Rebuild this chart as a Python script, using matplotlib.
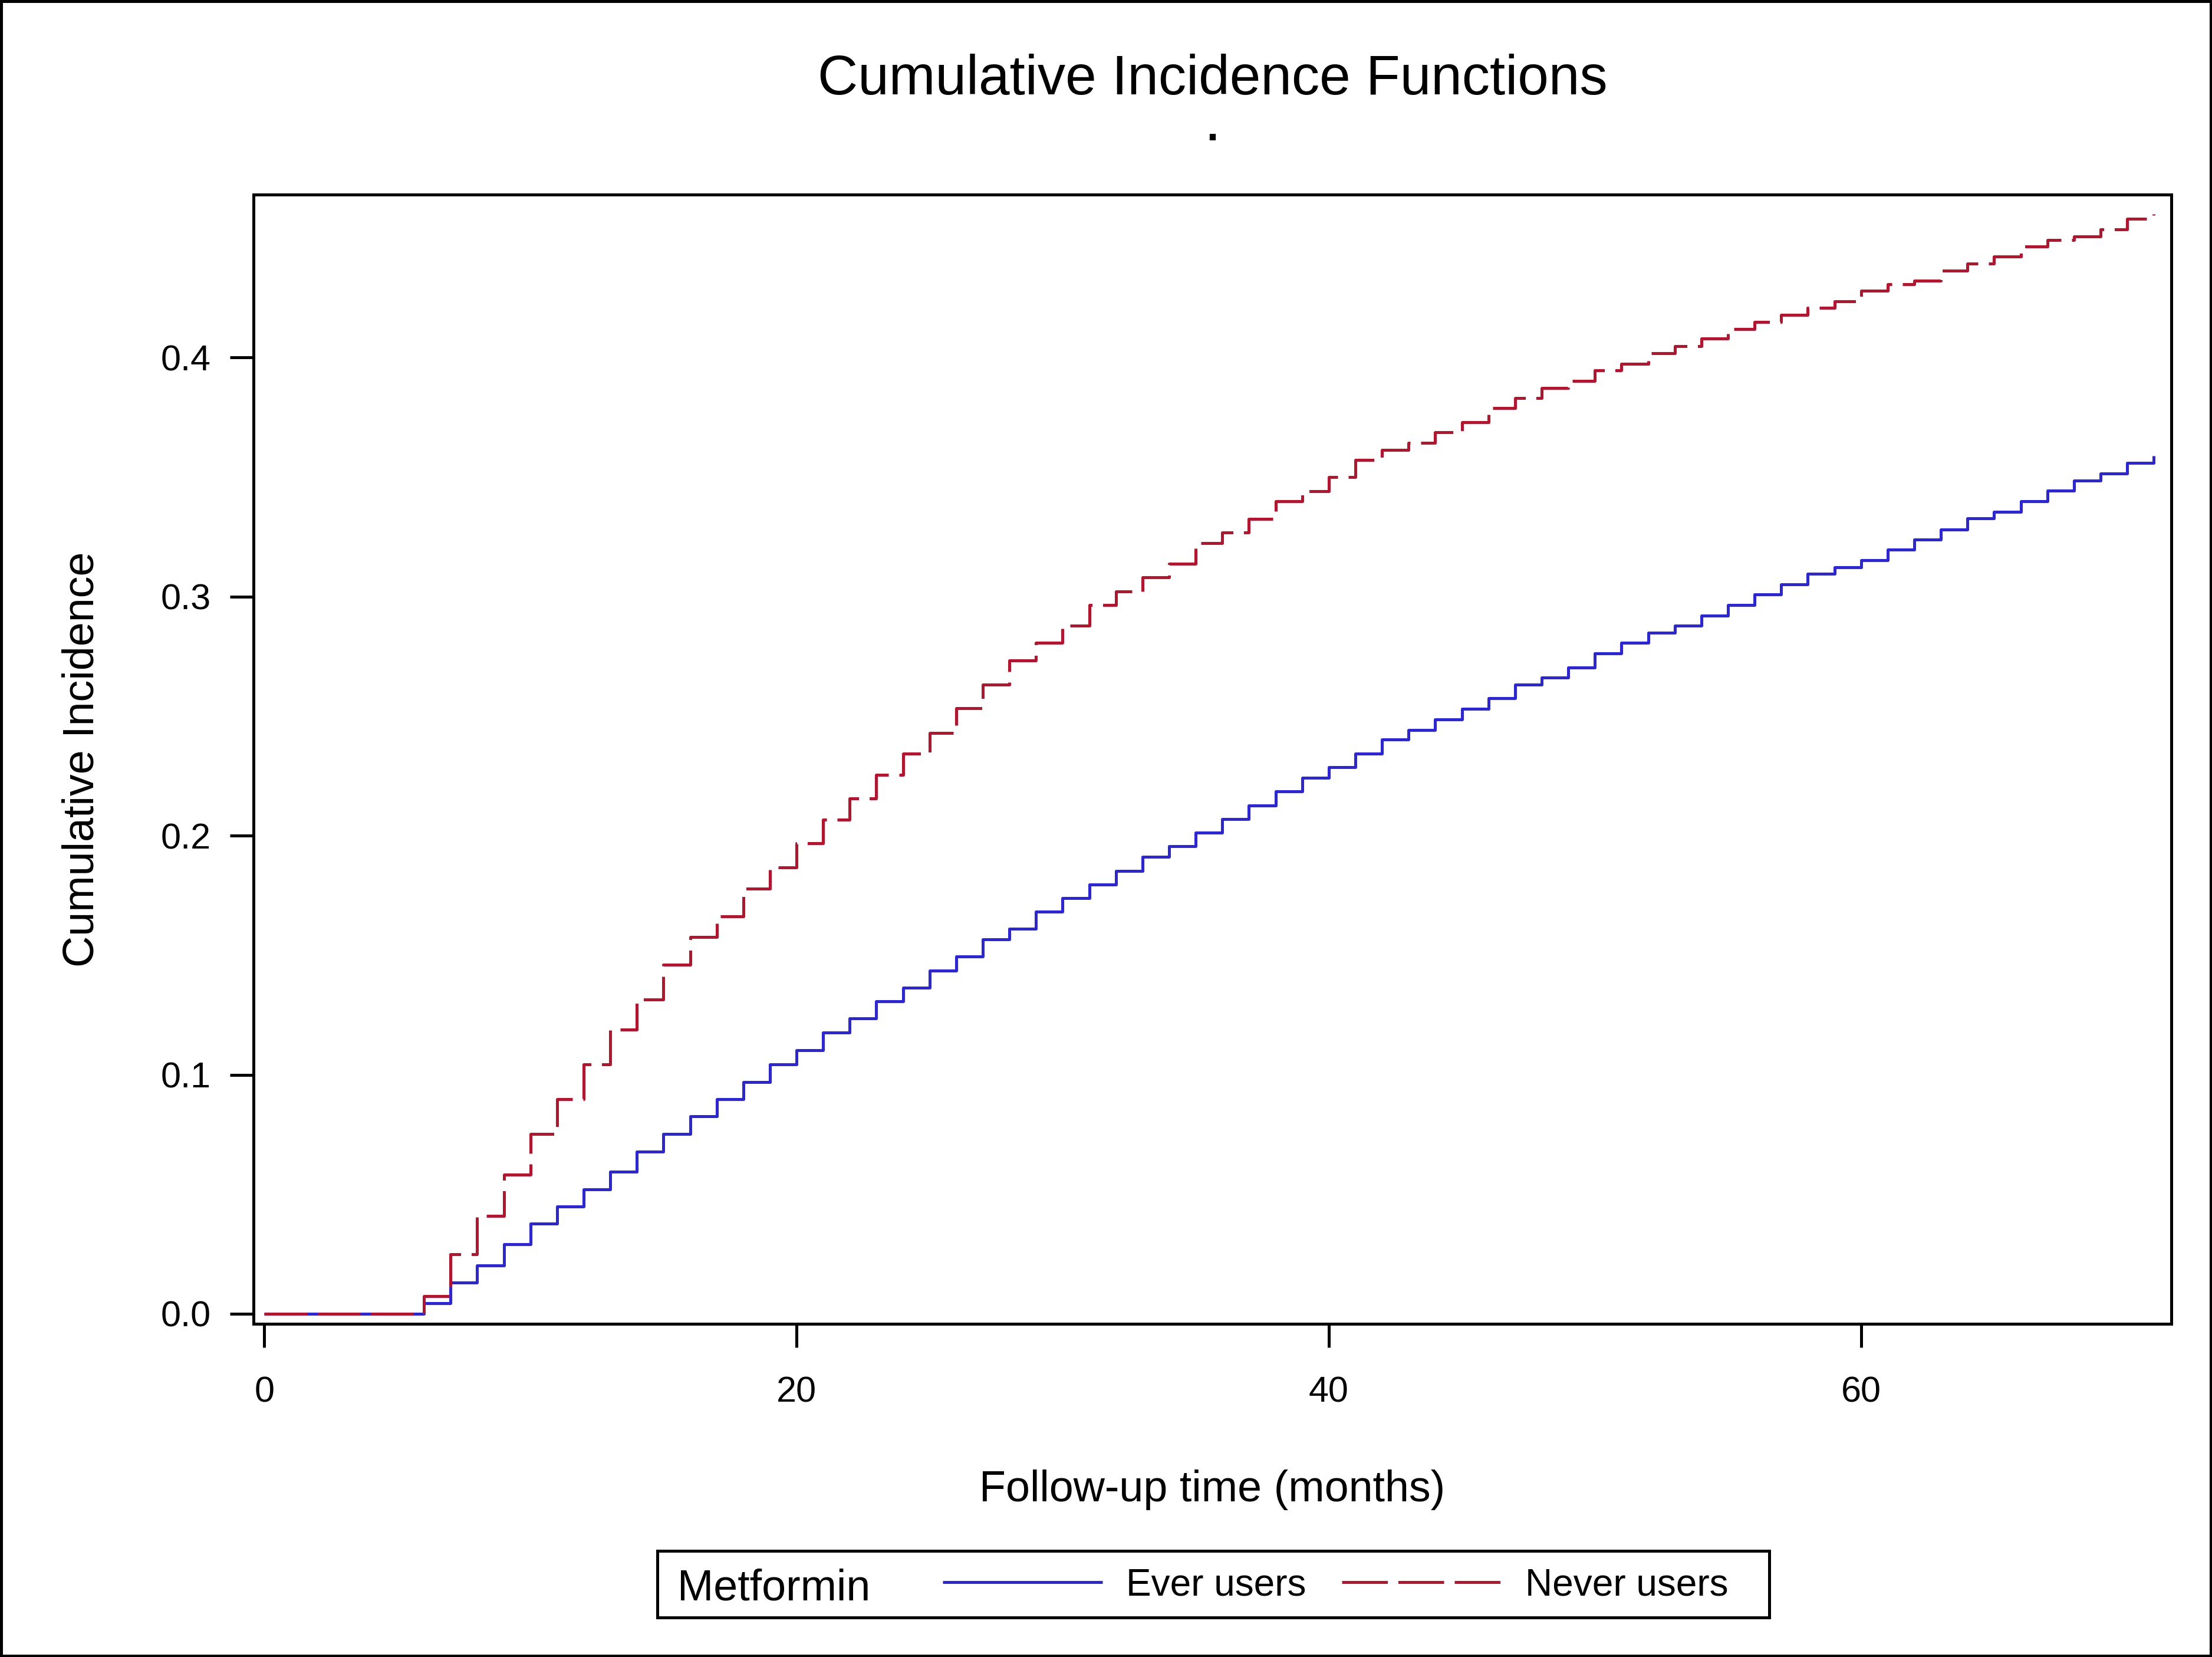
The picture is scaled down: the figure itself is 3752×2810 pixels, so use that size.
import matplotlib
matplotlib.use('Agg')
import matplotlib.pyplot as plt
from matplotlib.lines import Line2D
from matplotlib.patches import Rectangle

plt.rcParams['font.family'] = ['Liberation Sans', 'DejaVu Sans']

# follow-up months where the estimates change (step function, post)
months = [0] + list(range(6, 72))

# cumulative incidence, Metformin ever users
ever_users = [0.0,
              0.0044, 0.0131, 0.0203, 0.0291, 0.0378, 0.0449, 0.0521, 0.0594, 0.0679, 0.0753,
              0.0825, 0.0897, 0.0970, 0.1043, 0.1103, 0.1177, 0.1235, 0.1307, 0.1364, 0.1436,
              0.1494, 0.1567, 0.1610, 0.1681, 0.1739, 0.1796, 0.1853, 0.1912, 0.1955, 0.2013,
              0.2070, 0.2127, 0.2185, 0.2242, 0.2287, 0.2344, 0.2401, 0.2442, 0.2487, 0.2531,
              0.2575, 0.2632, 0.2661, 0.2704, 0.2762, 0.2806, 0.2848, 0.2878, 0.2921, 0.2964,
              0.3008, 0.3051, 0.3095, 0.3123, 0.3152, 0.3196, 0.3238, 0.3281, 0.3326, 0.3355,
              0.3399, 0.3443, 0.3484, 0.3514, 0.3558, 0.3588]

# cumulative incidence, Metformin never users
never_users = [0.0,
               0.0075, 0.0248, 0.0409, 0.0582, 0.0753, 0.0897, 0.1043, 0.1188, 0.1315, 0.1461,
               0.1576, 0.1663, 0.1779, 0.1867, 0.1968, 0.2067, 0.2155, 0.2255, 0.2343, 0.2429,
               0.2533, 0.2632, 0.2733, 0.2806, 0.2879, 0.2964, 0.3022, 0.3080, 0.3138, 0.3224,
               0.3267, 0.3325, 0.3398, 0.3441, 0.3499, 0.3570, 0.3613, 0.3642, 0.3687, 0.3730,
               0.3788, 0.3831, 0.3872, 0.3901, 0.3945, 0.3974, 0.4017, 0.4047, 0.4078, 0.4119,
               0.4148, 0.4178, 0.4207, 0.4235, 0.4278, 0.4307, 0.4322, 0.4363, 0.4392, 0.4422,
               0.4465, 0.4492, 0.4507, 0.4536, 0.4581, 0.4599]

x_ticks = [0, 20, 40, 60]
y_ticks = [0.0, 0.1, 0.2, 0.3, 0.4]
group_labels = ['Ever users', 'Never users']

BLUE = '#2B25DC'
RED = '#B8122C'
W, H = 3752, 2810
LW = 3.6
DASH = (14.5, 3.6)
AXLW = 3.6

fig = plt.figure(figsize=(W / 100, H / 100), dpi=100)
ax = fig.add_axes([430 / W, 1 - 2245 / H, (3683 - 430) / W, (2245 - 330) / H])

ax.step(months, ever_users, where='post', color=BLUE, lw=LW, solid_capstyle='butt', zorder=3)
ax.step(months, never_users, where='post', color=RED, lw=LW, dashes=DASH,
        dash_capstyle='butt', zorder=4)

ax.set_xlim(-0.405, 71.66)
ax.set_ylim(-0.0042, 0.4681)
ax.set_xticks(x_ticks)
ax.set_xticklabels([str(t) for t in x_ticks])
ax.set_yticks(y_ticks)
ax.set_yticklabels(['%.1f' % t for t in y_ticks])
ax.tick_params(direction='out', length=28.8, width=AXLW, labelsize=44, color='black')
ax.tick_params(axis='x', pad=35)
ax.tick_params(axis='y', pad=23)
for s in ax.spines.values():
    s.set_linewidth(AXLW)
    s.set_color('black')

ax.set_xlabel('Follow-up time (months)', fontsize=53)
ax.xaxis.label.set_va('baseline')
ax.xaxis.set_label_coords(0.5, -0.1572)
ax.set_ylabel('Cumulative Incidence', fontsize=53)
ax.yaxis.label.set_va('baseline')
ax.yaxis.set_label_coords(-0.0836, 0.5)

cx = (430 + 3683) / 2 / W
fig.text(cx, 1 - 160 / H, 'Cumulative Incidence Functions', ha='center', va='baseline', fontsize=68)
fig.text(cx, 1 - 238 / H, '.', ha='center', va='baseline', fontsize=52, fontweight='bold')

# legend: box with group title on the left
handles = [Line2D([], [], color=BLUE, lw=LW, solid_capstyle='butt'),
           Line2D([], [], color=RED, lw=LW, dashes=(15.5, 3.6), dash_capstyle='butt')]
fig.legend(handles, group_labels, loc='center left', bbox_to_anchor=(1599 / W, 1 - 2688 / H),
           ncol=2, frameon=False, fontsize=46, handlelength=4.24, handletextpad=0.63,
           columnspacing=0.95, borderpad=0, borderaxespad=0)
fig.text(1149 / W, 1 - 2714 / H, 'Metformin', va='baseline', fontsize=53)
fig.patches.append(Rectangle((1115 / W, 1 - 2743 / H), (3001 - 1115) / W, (2743 - 2630) / H,
                             transform=fig.transFigure, fill=False, lw=AXLW, ec='black'))

# outer frame
fig.patches.append(Rectangle((2 / W, 2 / H), (W - 4) / W, (H - 4) / H,
                             transform=fig.transFigure, fill=False, lw=AXLW, ec='black'))

fig.savefig('out.png', dpi=100)
